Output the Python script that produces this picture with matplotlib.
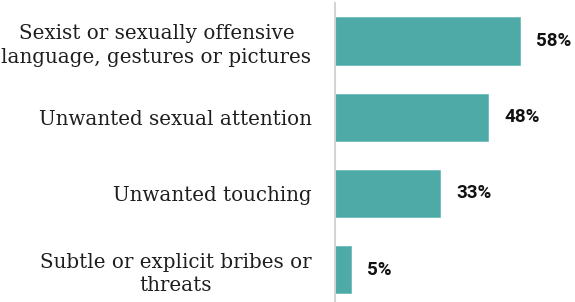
import matplotlib
matplotlib.use("Agg")
import matplotlib.pyplot as plt

categories = [
    "Sexist or sexually offensive\nlanguage, gestures or pictures",
    "Unwanted sexual attention",
    "Unwanted touching",
    "Subtle or explicit bribes or\nthreats",
]
values = [58, 48, 33, 5]
value_labels = ["58%", "48%", "33%", "5%"]

W, H = 575, 302
fig = plt.figure(figsize=(W / 100, H / 100), dpi=100)
ax = fig.add_axes([335 / W, 0, 240 / W, 299 / H])

bar_color = "#4EAAA6"
ypos = list(range(len(categories)))
ax.barh(ypos, values, height=0.62, color=bar_color, edgecolor="#6FBDB9", linewidth=0.6)

ax.set_xlim(0, 240 / 3.19)
ax.set_ylim(3.425, -0.5)

for s in ["top", "right", "bottom"]:
    ax.spines[s].set_visible(False)
ax.spines["left"].set_color("#D4D4D4")
ax.spines["left"].set_linewidth(1.5)
ax.set_xticks([])
ax.set_yticks(ypos)
ax.set_yticklabels(categories, fontfamily="DejaVu Serif", fontsize=14.3,
                   color="#1E1E1E", multialignment="center", linespacing=1.3)
ax.tick_params(axis="y", length=0, pad=17)

for y, v, lab in zip(ypos, values, value_labels):
    ax.annotate(lab, xy=(v, y), xytext=(16, 0), textcoords="offset pixels",
                va="center", ha="left", fontfamily="Roboto", fontweight="bold",
                fontsize=13.5, color="#111111")

fig.savefig("out.png", dpi=100)
